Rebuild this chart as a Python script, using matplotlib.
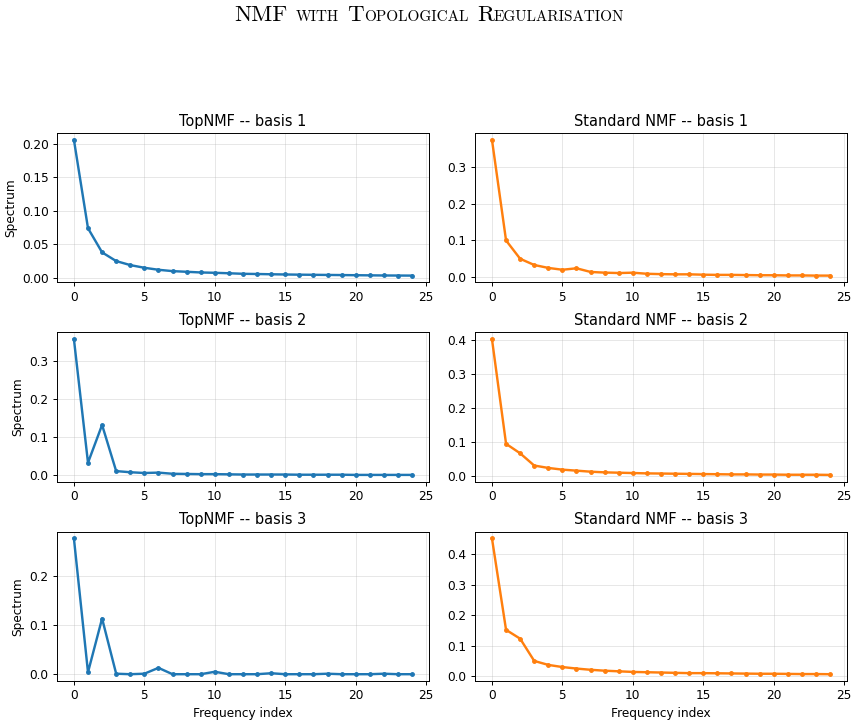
import numpy as np
import matplotlib
matplotlib.use("Agg")
import matplotlib.pyplot as plt

# Spectra (frequency index 0..24)
freq = np.arange(25)

top_basis1 = [0.206, 0.074, 0.038, 0.025, 0.019, 0.015, 0.012, 0.010, 0.009, 0.008,
              0.0075, 0.0068, 0.006, 0.0057, 0.0053, 0.005, 0.0047, 0.0045, 0.0043,
              0.0041, 0.0039, 0.0037, 0.0035, 0.0034, 0.0033]
top_basis2 = [0.357, 0.033, 0.132, 0.011, 0.008, 0.006, 0.007, 0.004, 0.0035, 0.003,
              0.003, 0.0025, 0.002, 0.002, 0.002, 0.002, 0.0015, 0.0015, 0.0015,
              0.0015, 0.001, 0.001, 0.001, 0.001, 0.001]
top_basis3 = [0.278, 0.004, 0.114, 0.001, 0.0, 0.001, 0.013, 0.0, 0.0, 0.0,
              0.005, 0.0, 0.0, 0.0, 0.002, 0.0, 0.0, 0.0, 0.001, 0.0,
              0.0, 0.0, 0.001, 0.0, 0.0]

std_basis1 = [0.375, 0.100, 0.050, 0.033, 0.025, 0.020, 0.024, 0.014, 0.012, 0.011,
              0.012, 0.009, 0.008, 0.0075, 0.0075, 0.0065, 0.006, 0.006, 0.0055,
              0.005, 0.005, 0.0045, 0.0045, 0.004, 0.004]
std_basis2 = [0.403, 0.095, 0.067, 0.031, 0.024, 0.019, 0.016, 0.013, 0.011, 0.010,
              0.009, 0.008, 0.0075, 0.007, 0.0065, 0.006, 0.0055, 0.005, 0.005,
              0.0045, 0.0045, 0.004, 0.004, 0.004, 0.0035]
std_basis3 = [0.452, 0.152, 0.123, 0.050, 0.037, 0.030, 0.025, 0.021, 0.018, 0.016,
              0.014, 0.013, 0.012, 0.011, 0.010, 0.010, 0.0095, 0.009, 0.0085,
              0.008, 0.008, 0.0075, 0.007, 0.007, 0.0065]

top_spectra = [top_basis1, top_basis2, top_basis3]
std_spectra = [std_basis1, std_basis2, std_basis3]

DPI = 87
fig, axes = plt.subplots(3, 2, figsize=(858 / DPI, 723 / DPI), dpi=DPI)
fig.subplots_adjust(left=57 / 858, right=847 / 858, top=1 - 133 / 723,
                    bottom=1 - 681 / 723, hspace=0.334, wspace=0.124)

for i in range(3):
    ax = axes[i, 0]
    ax.plot(freq, top_spectra[i], color="tab:blue", linewidth=2, marker="o", markersize=3)
    ax.set_title(f"TopNMF -- basis {i + 1}")
    ax.set_ylabel("Spectrum")
    ax.grid(alpha=0.3)

    ax = axes[i, 1]
    ax.plot(freq, std_spectra[i], color="tab:orange", linewidth=2, marker="o", markersize=3)
    ax.set_title(f"Standard NMF -- basis {i + 1}")
    ax.grid(alpha=0.3)

for ax in axes.flat:
    ax.set_xticks([0, 5, 10, 15, 20, 25])
axes[2, 0].set_xlabel("Frequency index")
axes[2, 1].set_xlabel("Frequency index")

# Small-caps style suptitle built from pieces (no LaTeX available)
big, small = 19, 12.6
pieces = [("NMF", big), (" ", 0), ("WITH", small), (" ", 0),
          ("T", big), ("OPOLOGICAL", small), (" ", 0),
          ("R", big), ("EGULARISATION", small)]
renderer = fig.canvas.get_renderer()
texts, widths = [], []
for s, size in pieces:
    if s == " ":
        texts.append(None)
        widths.append(8.5)
        continue
    t = fig.text(0, 0, s, fontsize=size, family="cmr10", ha="left", va="baseline")
    texts.append(t)
    widths.append(t.get_window_extent(renderer).width)

W, H = fig.bbox.width, fig.bbox.height
x = (W - sum(widths)) / 2
baseline = H - 21
for t, w in zip(texts, widths):
    if t is not None:
        t.set_position((x / W, baseline / H))
    x += w

fig.savefig("out.png", dpi=DPI)
